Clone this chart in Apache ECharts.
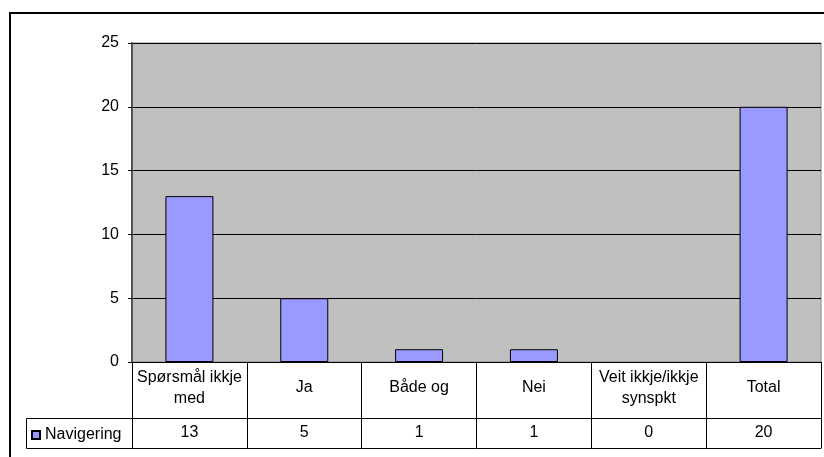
<!DOCTYPE html>
<html>
<head>
<meta charset="utf-8">
<script src="https://cdn.jsdelivr.net/npm/echarts@6/dist/echarts.min.js"></script>
<style>
  html, body { margin: 0; padding: 0; background: #fff; }
  #chart { width: 824px; height: 457px; }
</style>
</head>
<body>
<div id="chart"></div>
<script>
// Answer categories (with their line breaks in the table header) and the count for each
const categories = ['Spørsmål ikkje\nmed', 'Ja', 'Både og', 'Nei', 'Veit ikkje/ikkje\nsynspkt', 'Total'];
const navigering = [13, 5, 1, 1, 0, 20];
const seriesName = 'Navigering';
const yTicks = { min: 0, max: 25, step: 5 };

const FONT = '"Liberation Sans", Arial, sans-serif';
const chart = echarts.init(document.getElementById('chart'));

// zero-height bars get no outline
const barData = navigering.map(v => (v === 0 ? { value: v, itemStyle: { borderWidth: 0 } } : v));

chart.setOption({
  animation: false,
  backgroundColor: '#fff',
  textStyle: { fontFamily: FONT, color: '#000' },
  grid: {
    left: 132, top: 43, width: 689, height: 319,
    show: true, backgroundColor: '#C0C0C0', borderColor: '#888', borderWidth: 1
  },
  legend: {
    data: [seriesName],
    left: 31, top: 427, padding: 0,
    itemWidth: 8, itemHeight: 8, icon: 'rect',
    textStyle: { fontFamily: FONT, fontSize: 16, color: '#000' }
  },
  xAxis: [
    {
      // category header row of the data table
      type: 'category', data: categories, position: 'bottom',
      axisLine: { show: true, lineStyle: { color: '#000', width: 1 } },
      axisTick: { show: true, interval: 0, length: 56, lineStyle: { color: '#000', width: 1 } },
      axisLabel: {
        interval: 0, margin: 26, fontSize: 16, color: '#000', fontFamily: FONT,
        verticalAlign: 'middle', lineHeight: 21
      }
    },
    {
      // value row of the data table
      type: 'category', data: categories, position: 'bottom', offset: 56,
      axisLine: { show: true, lineStyle: { color: '#000', width: 1 } },
      axisTick: { show: true, interval: 0, length: 30, lineStyle: { color: '#000', width: 1 } },
      axisLabel: {
        interval: 0, margin: 15, fontSize: 16, color: '#000', fontFamily: FONT,
        verticalAlign: 'middle',
        formatter: (v, i) => String(navigering[i])
      }
    },
    {
      // closing line under the table
      type: 'category', data: categories, position: 'bottom', offset: 86,
      axisLine: { show: true, lineStyle: { color: '#000', width: 1 } },
      axisTick: { show: false },
      axisLabel: { show: false }
    }
  ],
  yAxis: {
    type: 'value', min: yTicks.min, max: yTicks.max, interval: yTicks.step,
    axisLine: { show: true, lineStyle: { color: '#555', width: 2 } },
    axisTick: { show: true, length: 4, lineStyle: { color: '#000' } },
    axisLabel: { margin: 13, fontSize: 16, color: '#000', fontFamily: FONT },
    splitLine: { show: true, lineStyle: { color: '#000', width: 1 } }
  },
  series: [{
    name: seriesName,
    type: 'bar',
    xAxisIndex: 0,
    data: barData,
    barWidth: 48,
    itemStyle: { color: '#9999FF', borderColor: '#000', borderWidth: 1 }
  }],
  graphic: [
    {
      // outer chart frame
      type: 'rect', silent: true, z: 100,
      shape: { x: 10, y: 13, width: 830, height: 460 },
      style: { fill: null, stroke: '#000', lineWidth: 2 }
    },
    {
      // legend key cell of the data table
      type: 'rect', silent: true, z: 100,
      shape: { x: 26.5, y: 418.5, width: 106, height: 30 },
      style: { fill: null, stroke: '#000', lineWidth: 1 }
    }
  ]
});
</script>
</body>
</html>
